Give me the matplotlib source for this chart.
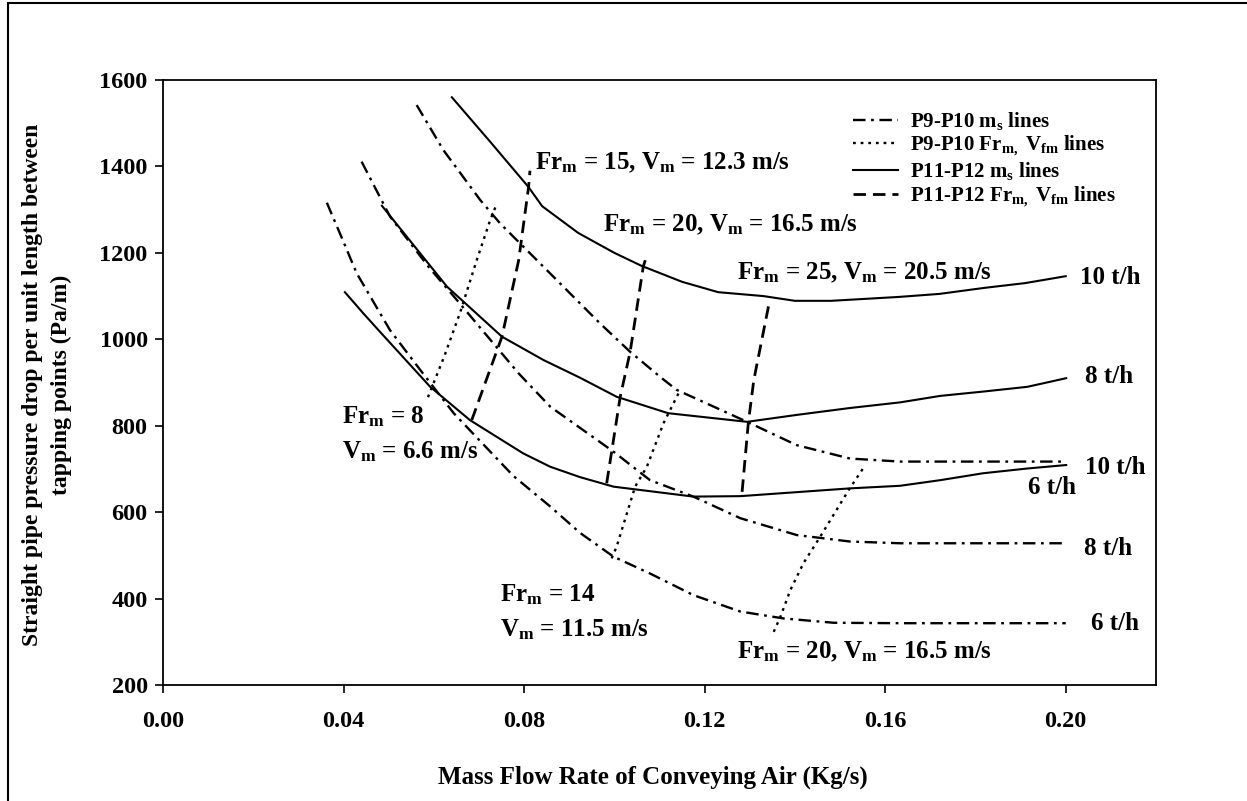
import numpy as np
import matplotlib
matplotlib.use('Agg')
import matplotlib.pyplot as plt
from matplotlib.patches import Rectangle

plt.rcParams['font.family'] = ['Liberation Serif', 'DejaVu Serif']
plt.rcParams['font.weight'] = 'bold'
plt.rcParams['font.size'] = 18
plt.rcParams['mathtext.fontset'] = 'custom'
plt.rcParams['mathtext.rm'] = 'Liberation Serif:bold'
plt.rcParams['mathtext.it'] = 'Liberation Serif:bold'
plt.rcParams['mathtext.bf'] = 'Liberation Serif:bold'
plt.rcParams['lines.scale_dashes'] = False

# P11-P12, solids mass flow lines (t/h)
x_p11_10 = [0.064, 0.0725, 0.081, 0.084, 0.092, 0.100, 0.106, 0.115, 0.123, 0.133, 0.140, 0.148, 0.163, 0.172, 0.182, 0.191, 0.200]
y_p11_10 = [1560, 1457, 1352, 1308, 1246, 1200, 1170, 1133, 1109, 1100, 1089, 1089, 1098, 1105, 1119, 1130, 1146]
x_p11_8 = [0.0485, 0.0629, 0.0751, 0.0843, 0.0924, 0.1005, 0.1119, 0.1294, 0.1404, 0.1522, 0.1633, 0.1722, 0.1817, 0.1915, 0.2001]
y_p11_8 = [1309, 1122, 1006, 952, 911, 867, 829, 809, 825, 841, 854, 869, 879, 890, 910]
x_p11_6 = [0.0403, 0.0443, 0.0481, 0.0592, 0.0680, 0.0798, 0.0858, 0.0924, 0.0998, 0.1175, 0.1279, 0.1522, 0.1633, 0.1722, 0.1817, 0.1915, 0.2001]
y_p11_6 = [1109, 1061, 1017, 890, 813, 736, 705, 681, 659, 636, 637, 655, 661, 674, 690, 701, 709]

# P9-P10, solids mass flow lines (t/h)
x_p9_10 = [0.0562, 0.0621, 0.0703, 0.0747, 0.0860, 0.0968, 0.1035, 0.1105, 0.1138, 0.1294, 0.1404, 0.1522, 0.1633, 0.2000]
y_p9_10 = [1542, 1438, 1322, 1268, 1150, 1037, 971, 910, 883, 809, 755, 724, 717, 717]
x_p9_8 = [0.0440, 0.0503, 0.0588, 0.0651, 0.0788, 0.0858, 0.0998, 0.1079, 0.1175, 0.1279, 0.1404, 0.1522, 0.1633, 0.2000]
y_p9_8 = [1411, 1284, 1168, 1091, 921, 844, 740, 674, 636, 586, 547, 532, 528, 528]
x_p9_6 = [0.0363, 0.0392, 0.0429, 0.0503, 0.0570, 0.0644, 0.0776, 0.0858, 0.0924, 0.0998, 0.1079, 0.1175, 0.1279, 0.1375, 0.1486, 0.1633, 0.2000]
y_p9_6 = [1316, 1245, 1153, 1021, 929, 829, 684, 613, 552, 497, 458, 408, 370, 354, 344, 343, 343]

# P11-P12 Froude number lines
x_p11_fr15 = [0.0684, 0.0751, 0.0788, 0.0810, 0.0813]
y_p11_fr15 = [813, 1006, 1183, 1353, 1390]
x_p11_fr20 = [0.0983, 0.0994, 0.1013, 0.1035, 0.1064, 0.1072]
y_p11_fr20 = [667, 740, 867, 971, 1168, 1195]
x_p11_fr25 = [0.1283, 0.1297, 0.1309, 0.1342]
y_p11_fr25 = [647, 809, 906, 1079]

# P9-P10 Froude number lines
x_p9_fr8 = [0.0587, 0.0623, 0.0658, 0.0695, 0.0725, 0.0740]
y_p9_fr8 = [866, 960, 1061, 1183, 1276, 1315]
x_p9_fr14 = [0.0994, 0.1005, 0.1046, 0.1072, 0.1109, 0.1146]
y_p9_fr14 = [493, 520, 659, 705, 806, 883]
x_p9_fr20 = [0.1353, 0.1368, 0.1390, 0.1419, 0.1456, 0.1519, 0.1556]
y_p9_fr20 = [323, 358, 420, 482, 543, 651, 709]

W, H = 1247, 801
fig = plt.figure(figsize=(W / 100, H / 100), dpi=100)
ax = fig.add_axes([163 / W, 1 - 685 / H, (1156 - 163) / W, (685 - 80) / H])

dashdot = (0, (9, 4, 2, 4))
dashed = (0, (9, 5))
dotted = (0, (2, 3.5))

ax.plot(x_p9_10, y_p9_10, color='black', lw=1.7, linestyle=dashdot, label='P9-P10 m$_{\\mathrm{s}}$ lines')
ax.plot(x_p9_8, y_p9_8, color='black', lw=1.7, linestyle=dashdot)
ax.plot(x_p9_6, y_p9_6, color='black', lw=1.7, linestyle=dashdot)

ax.plot(x_p9_fr8, y_p9_fr8, color='black', lw=1.7, linestyle=dotted,
        label='P9-P10 Fr$_{\\mathrm{m,}}$ V$_{\\mathrm{fm}}$ lines')
ax.plot(x_p9_fr14, y_p9_fr14, color='black', lw=1.7, linestyle=dotted)
ax.plot(x_p9_fr20, y_p9_fr20, color='black', lw=1.7, linestyle=dotted)

ax.plot(x_p11_10, y_p11_10, color='black', lw=1.5, label='P11-P12 m$_{\\mathrm{s}}$ lines')
ax.plot(x_p11_8, y_p11_8, color='black', lw=1.5)
ax.plot(x_p11_6, y_p11_6, color='black', lw=1.5)

ax.plot(x_p11_fr15, y_p11_fr15, color='black', lw=2.0, linestyle=dashed,
        label='P11-P12 Fr$_{\\mathrm{m,}}$ V$_{\\mathrm{fm}}$ lines')
ax.plot(x_p11_fr20, y_p11_fr20, color='black', lw=2.0, linestyle=dashed)
ax.plot(x_p11_fr25, y_p11_fr25, color='black', lw=2.0, linestyle=dashed)

ax.set_xlim(0, 0.22)
ax.set_ylim(200, 1600)
ax.set_xticks(np.arange(0, 0.201, 0.04))
ax.set_xticklabels(['%.2f' % v for v in np.arange(0, 0.201, 0.04)])
ax.set_yticks(np.arange(200, 1601, 200))
ax.tick_params(direction='out', length=6, width=1.2, labelsize=17.5)
ax.tick_params(axis='x', pad=13)
ax.tick_params(axis='y', pad=5)
for s in ax.spines.values():
    s.set_linewidth(1.3)

# annotations
ax.text(0.0824, 1408, 'Fr$_{\\mathrm{m}}$ = 15, V$_{\\mathrm{m}}$ = 12.3 m/s', va='center')
ax.text(0.0975, 1264, 'Fr$_{\\mathrm{m}}$ = 20, V$_{\\mathrm{m}}$ = 16.5 m/s', va='center')
ax.text(0.1272, 1153, 'Fr$_{\\mathrm{m}}$ = 25, V$_{\\mathrm{m}}$ = 20.5 m/s', va='center')
ax.text(0.0397, 820, 'Fr$_{\\mathrm{m}}$ = 8', va='center')
ax.text(0.0397, 739, 'V$_{\\mathrm{m}}$ = 6.6 m/s', va='center')
ax.text(0.0747, 408, 'Fr$_{\\mathrm{m}}$ = 14', va='center')
ax.text(0.0747, 327, 'V$_{\\mathrm{m}}$ = 11.5 m/s', va='center')
ax.text(0.1272, 276, 'Fr$_{\\mathrm{m}}$ = 20, V$_{\\mathrm{m}}$ = 16.5 m/s', va='center')

ax.text(0.2032, 1142, '10 t/h', va='center')
ax.text(0.2043, 913, '8 t/h', va='center')
ax.text(0.2043, 704, '10 t/h', va='center')
ax.text(0.1917, 656, '6 t/h', va='center')
ax.text(0.2041, 517, '8 t/h', va='center')
ax.text(0.2056, 343, '6 t/h', va='center')

ax.legend(loc='upper left', bbox_to_anchor=(853 / W, 1 - 110 / H), bbox_transform=fig.transFigure,
          frameon=False, fontsize=15, handlelength=2.15, handletextpad=0.6,
          labelspacing=0.1, borderpad=0, borderaxespad=0)

fig.text(653 / W, 1 - 777 / H, 'Mass Flow Rate of Conveying Air (Kg/s)', ha='center', va='center', fontsize=18)
fig.text(47 / W, 1 - 385 / H, 'Straight pipe pressure drop per unit length between\ntapping points (Pa/m)',
         ha='center', va='center', rotation=90, fontsize=17, linespacing=1.45, multialignment='center')

# outer frame of the figure
fig.patches.append(Rectangle((8 / W, -0.1), 1.2, 1.1 - 3 / H, transform=fig.transFigure,
                             fill=False, lw=1.5, edgecolor='black'))

fig.savefig('out.png', dpi=100)
